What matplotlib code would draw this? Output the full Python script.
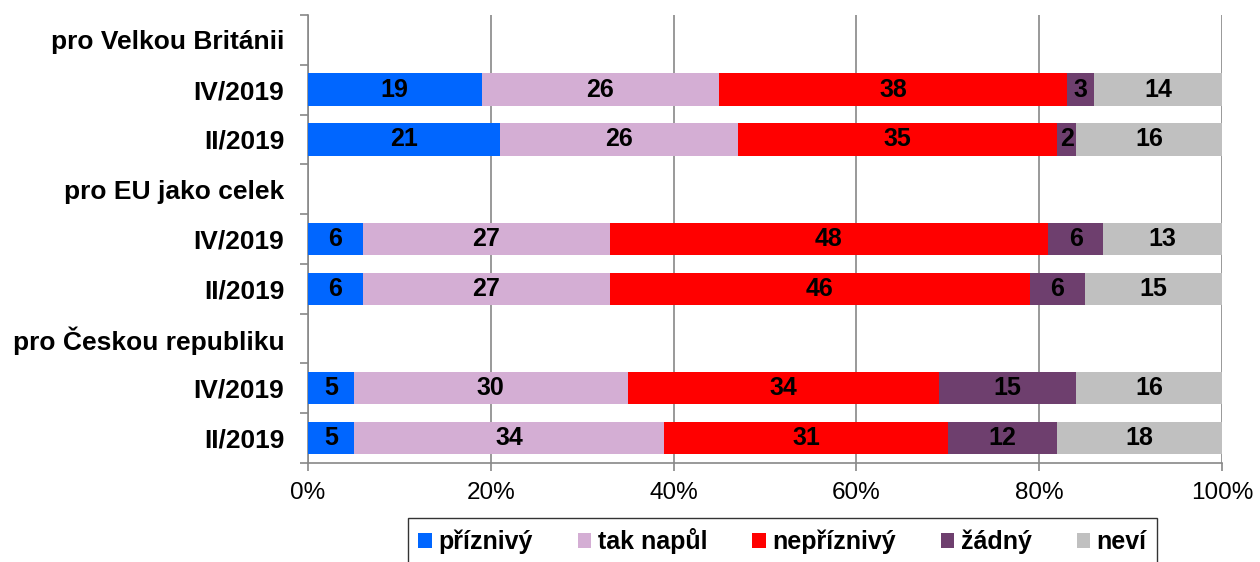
import matplotlib.pyplot as plt
from matplotlib.patches import Patch
import numpy as np

plt.rcParams['font.family'] = ['Liberation Sans', 'DejaVu Sans']

# rows from top to bottom, header rows stay empty
row_labels = ['pro Velkou Británii', 'IV/2019', 'II/2019',
              'pro EU jako celek', 'IV/2019', 'II/2019',
              'pro Českou republiku', 'IV/2019', 'II/2019']
series = ['příznivý', 'tak napůl', 'nepříznivý', 'žádný', 'neví']
colors = ['#0066FF', '#D4AED4', '#FF0000', '#6E3F6E', '#C0C0C0']

priznivy   = [None, 19, 21, None, 6, 6, None, 5, 5]
tak_napul  = [None, 26, 26, None, 27, 27, None, 30, 34]
nepriznivy = [None, 38, 35, None, 48, 46, None, 34, 31]
zadny      = [None, 3, 2, None, 6, 6, None, 15, 12]
nevi       = [None, 14, 16, None, 13, 15, None, 16, 18]

values = [priznivy, tak_napul, nepriznivy, zadny, nevi]

fig = plt.figure(figsize=(12.6, 5.62), dpi=100)
ax = fig.add_axes([0.2444, 0.1762, 0.7254, 0.7972])

n = len(row_labels)
y = np.arange(n)
left = np.zeros(n)
for vals, col in zip(values, colors):
    v = np.array([0 if x is None else x for x in vals], dtype=float)
    bars = ax.barh(y, v, left=left, height=0.65, color=col, zorder=3)
    for b, val in zip(bars, vals):
        if val is not None:
            ax.text(b.get_x() + b.get_width() / 2, b.get_y() + b.get_height() / 2,
                    str(val), ha='center', va='center', fontsize=18,
                    fontweight='bold', color='black', zorder=4)
    left += v

ax.set_xlim(0, 100)
ax.set_ylim(n - 0.5, -0.5)
ax.set_yticks(y)
ax.set_yticklabels(row_labels, fontsize=19, fontweight='bold')
ax.set_yticks(np.arange(-0.5, n, 1), minor=True)
ax.tick_params(axis='y', which='major', length=0, pad=17)
ax.tick_params(axis='y', which='minor', length=6, color='#888888', width=1.2)

ax.set_xticks([0, 20, 40, 60, 80, 100])
ax.set_xticklabels(['0%', '20%', '40%', '60%', '80%', '100%'], fontsize=17.5)
ax.tick_params(axis='x', length=6, color='#888888', width=1.2, pad=8)
ax.grid(axis='x', color='#888888', linewidth=1.2, zorder=0)

for s in ['top', 'right']:
    ax.spines[s].set_visible(False)
for s in ['left', 'bottom']:
    ax.spines[s].set_color('#888888')
    ax.spines[s].set_linewidth(1.2)

handles = [Patch(facecolor=c, edgecolor='none') for c in colors]
leg = fig.legend(handles, series, loc='upper center', bbox_to_anchor=(0.621, 0.078),
                 ncol=5, frameon=True, fancybox=False, borderaxespad=0,
                 prop={'weight': 'bold', 'size': 18},
                 handlelength=0.55, handleheight=0.55, handletextpad=0.25,
                 columnspacing=1.8, borderpad=0.4)
leg.get_frame().set_edgecolor('black')
leg.get_frame().set_linewidth(1.0)

fig.savefig('out.png', dpi=100)
